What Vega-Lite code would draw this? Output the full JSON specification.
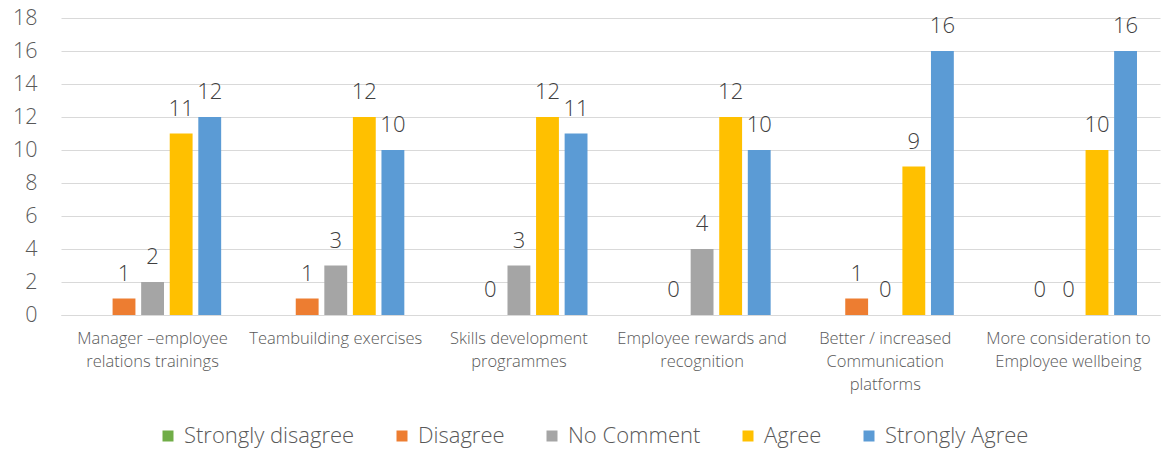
{
  "$schema": "https://vega.github.io/schema/vega-lite/v6.json",
  "width": 1099,
  "height": 297,
  "autosize": {"type": "none"},
  "padding": {"left": 61, "top": 18, "right": 13, "bottom": 135},
  "background": "white",
  "config": {
    "font": "Open Sans",
    "view": {"stroke": null},
    "axis": {"labelFont": "Open Sans", "labelColor": "#595959", "labelFontWeight": 300},
    "legend": {"labelFont": "Open Sans", "labelColor": "#595959", "labelFontWeight": 300}
  },
  "data": {
    "values": [
      {"category": "Manager –employee relations trainings", "response": "Strongly disagree", "count": null},
      {"category": "Manager –employee relations trainings", "response": "Disagree", "count": 1},
      {"category": "Manager –employee relations trainings", "response": "No Comment", "count": 2},
      {"category": "Manager –employee relations trainings", "response": "Agree", "count": 11},
      {"category": "Manager –employee relations trainings", "response": "Strongly Agree", "count": 12},
      {"category": "Teambuilding exercises", "response": "Strongly disagree", "count": null},
      {"category": "Teambuilding exercises", "response": "Disagree", "count": 1},
      {"category": "Teambuilding exercises", "response": "No Comment", "count": 3},
      {"category": "Teambuilding exercises", "response": "Agree", "count": 12},
      {"category": "Teambuilding exercises", "response": "Strongly Agree", "count": 10},
      {"category": "Skills development programmes", "response": "Strongly disagree", "count": null},
      {"category": "Skills development programmes", "response": "Disagree", "count": 0},
      {"category": "Skills development programmes", "response": "No Comment", "count": 3},
      {"category": "Skills development programmes", "response": "Agree", "count": 12},
      {"category": "Skills development programmes", "response": "Strongly Agree", "count": 11},
      {"category": "Employee rewards and recognition", "response": "Strongly disagree", "count": null},
      {"category": "Employee rewards and recognition", "response": "Disagree", "count": 0},
      {"category": "Employee rewards and recognition", "response": "No Comment", "count": 4},
      {"category": "Employee rewards and recognition", "response": "Agree", "count": 12},
      {"category": "Employee rewards and recognition", "response": "Strongly Agree", "count": 10},
      {"category": "Better / increased Communication platforms", "response": "Strongly disagree", "count": null},
      {"category": "Better / increased Communication platforms", "response": "Disagree", "count": 1},
      {"category": "Better / increased Communication platforms", "response": "No Comment", "count": 0},
      {"category": "Better / increased Communication platforms", "response": "Agree", "count": 9},
      {"category": "Better / increased Communication platforms", "response": "Strongly Agree", "count": 16},
      {"category": "More consideration to Employee wellbeing", "response": "Strongly disagree", "count": null},
      {"category": "More consideration to Employee wellbeing", "response": "Disagree", "count": 0},
      {"category": "More consideration to Employee wellbeing", "response": "No Comment", "count": 0},
      {"category": "More consideration to Employee wellbeing", "response": "Agree", "count": 10},
      {"category": "More consideration to Employee wellbeing", "response": "Strongly Agree", "count": 16}
    ]
  },
  "encoding": {
    "x": {
      "field": "category",
      "type": "nominal",
      "sort": null,
      "title": null,
      "scale": {"paddingInner": 0.22, "paddingOuter": 0.11},
      "axis": {
        "labelAngle": 0,
        "labelFontSize": 16.5,
        "labelPadding": 15,
        "labelLineHeight": 23,
        "labelLimit": 300,
        "ticks": false,
        "domainColor": "#d9d9d9",
        "domainWidth": 1,
        "labelExpr": "datum.label == 'Manager –employee relations trainings' ? ['Manager –employee', 'relations trainings'] : datum.label == 'Skills development programmes' ? ['Skills development', 'programmes'] : datum.label == 'Employee rewards and recognition' ? ['Employee rewards and', 'recognition'] : datum.label == 'Better / increased Communication platforms' ? ['Better / increased', 'Communication', 'platforms'] : datum.label == 'More consideration to Employee wellbeing' ? ['More consideration to', 'Employee wellbeing'] : datum.label"
      }
    },
    "xOffset": {
      "field": "response",
      "type": "nominal",
      "scale": {
        "domain": ["Strongly disagree", "Disagree", "No Comment", "Agree", "Strongly Agree"],
        "paddingInner": 0.2,
        "paddingOuter": 0.1
      }
    },
    "y": {
      "field": "count",
      "type": "quantitative",
      "title": null,
      "scale": {"domain": [0, 18], "nice": false},
      "axis": {
        "values": [0, 2, 4, 6, 8, 10, 12, 14, 16, 18],
        "labelFontSize": 21.5,
        "labelPadding": 24,
        "ticks": false,
        "domain": false,
        "gridColor": "#d9d9d9",
        "gridWidth": 1
      }
    }
  },
  "layer": [
    {
      "mark": {"type": "bar"},
      "encoding": {
        "color": {
          "field": "response",
          "type": "nominal",
          "title": null,
          "scale": {
            "domain": ["Strongly disagree", "Disagree", "No Comment", "Agree", "Strongly Agree"],
            "range": ["#70AD47", "#ED7D31", "#A5A5A5", "#FFC000", "#5B9BD5"]
          },
          "legend": {
            "orient": "none",
            "direction": "horizontal",
            "legendX": 96,
            "legendY": 407,
            "symbolType": "square",
            "symbolSize": 121,
            "symbolStrokeWidth": 0,
            "symbolOpacity": 1,
            "labelFontSize": 22,
            "labelOffset": 5,
            "columnPadding": 36,
            "labelLimit": 300
          }
        }
      }
    },
    {
      "transform": [{"filter": "datum.count != null"}],
      "mark": {"type": "text", "baseline": "alphabetic", "dy": -18, "fontSize": 22, "fontWeight": 300, "color": "#404040"},
      "encoding": {"text": {"field": "count", "type": "quantitative"}}
    }
  ]
}
